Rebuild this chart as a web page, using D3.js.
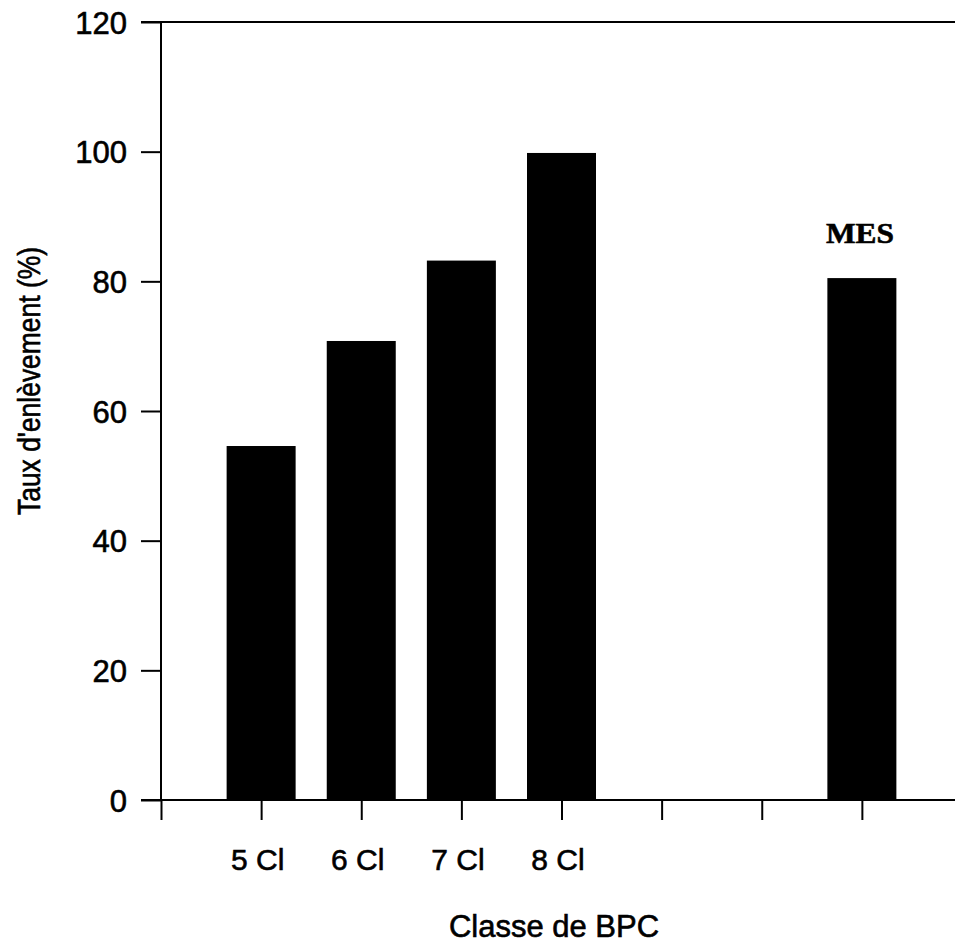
<!DOCTYPE html>
<html>
<head>
<meta charset="utf-8">
<script src="https://cdn.jsdelivr.net/npm/d3@7"></script>
<style>
  html, body { margin: 0; padding: 0; background: #fff; }
  svg { display: block; }
  text { font-family: "Liberation Sans", Arial, Helvetica, sans-serif; fill: #000; stroke: #000; stroke-width: 0.6px; }
</style>
</head>
<body>
<svg id="chart" width="955" height="947"></svg>
<script>
// Slots along the x axis: the origin, four PCB classes, two empty slots, MES
const slots = ["origine", "5 Cl", "6 Cl", "7 Cl", "8 Cl", "vide1", "vide2", "MES", "fin"];
const tickSlots = ["origine", "5 Cl", "6 Cl", "7 Cl", "8 Cl", "vide1", "vide2", "MES"];
const tickLabels = ["", "5 Cl", "6 Cl", "7 Cl", "8 Cl", "", "", ""];

// Removal rates (%)
const categories = ["5 Cl", "6 Cl", "7 Cl", "8 Cl", "MES"];
const values = [54.6, 70.8, 83.2, 99.8, 80.5];
const annotated = ["MES"];

const yTicks = [0, 20, 40, 60, 80, 100, 120];
const yTitle = "Taux d'enlèvement (%)";
const xTitle = "Classe de BPC";

const svg = d3.select("#chart");
const W = 955;

const x = d3.scalePoint().domain(slots).range([161, 962]);
const y = d3.scaleLinear().domain([0, 120]).range([800, 22]);
const barW = 69;

// Bars
svg.append("g")
  .selectAll("rect")
  .data(categories.map((c, i) => ({ c, v: values[i] })))
  .join("rect")
  .attr("x", d => x(d.c) - barW / 2)
  .attr("y", d => y(d.v))
  .attr("width", barW)
  .attr("height", d => y(0) - y(d.v))
  .attr("fill", "#000");

// Label above the MES bar
svg.append("g")
  .selectAll("text")
  .data(annotated)
  .join("text")
  .attr("x", d => x(d) - 2)
  .attr("y", d => y(values[categories.indexOf(d)]) - 35)
  .attr("text-anchor", "middle")
  .style("font-family", "'Liberation Serif', 'Times New Roman', serif")
  .style("font-weight", "bold")
  .style("font-size", "30px")
  .attr("textLength", 68)
  .attr("lengthAdjust", "spacingAndGlyphs")
  .text(d => d);

// Y axis
const yAxis = svg.append("g")
  .attr("transform", `translate(${x("origine")},0)`)
  .call(d3.axisLeft(y).tickValues(yTicks).tickSize(20).tickPadding(14).tickSizeOuter(0));
yAxis.select(".domain").remove();
yAxis.selectAll(".tick line").attr("stroke", "#000").attr("stroke-width", 2);
yAxis.selectAll(".tick text").style("font-size", "31px").attr("dy", "0.36em");

// X axis ticks (below the baseline)
const xAxis = svg.append("g")
  .attr("transform", `translate(0,${y(0)})`)
  .call(d3.axisBottom(x).tickValues(tickSlots).tickSize(20).tickPadding(0)
    .tickFormat((d, i) => tickLabels[i]));
xAxis.select(".domain").remove();
xAxis.selectAll(".tick line").attr("stroke", "#000").attr("stroke-width", 2);
xAxis.selectAll(".tick text")
  .style("font-size", "30px")
  .attr("dx", "-4")
  .attr("y", 70)
  .attr("dy", 0);

// Frame lines: left axis, baseline and top line
const lines = svg.append("g").attr("stroke", "#000").attr("stroke-width", 2);
lines.append("line")
  .attr("x1", x("origine")).attr("x2", x("origine"))
  .attr("y1", y(120)).attr("y2", y(0));
lines.append("line")
  .attr("x1", x("origine") - 20).attr("x2", W)
  .attr("y1", y(0)).attr("y2", y(0));
lines.append("line")
  .attr("x1", x("origine") - 20).attr("x2", W)
  .attr("y1", y(120)).attr("y2", y(120));

// Axis titles
svg.append("text")
  .attr("transform", `translate(40,${(247 + 515) / 2}) rotate(-90)`)
  .attr("text-anchor", "middle")
  .style("font-size", "31px")
  .attr("textLength", 268)
  .attr("lengthAdjust", "spacingAndGlyphs")
  .text(yTitle);

svg.append("text")
  .attr("x", 554)
  .attr("y", 937)
  .attr("text-anchor", "middle")
  .style("font-size", "31px")
  .text(xTitle);
</script>
</body>
</html>
